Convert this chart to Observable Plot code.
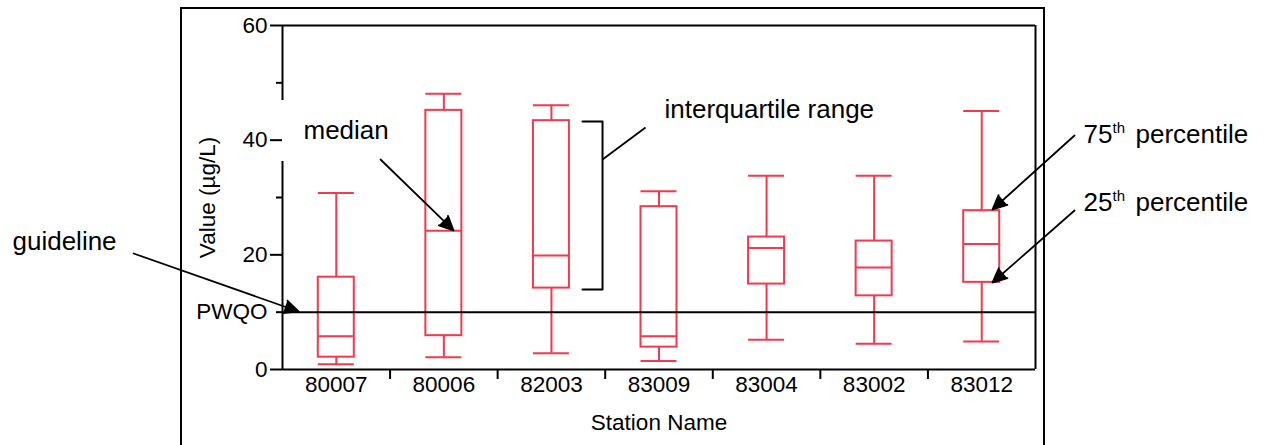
<!DOCTYPE html>
<html>
<head>
<meta charset="utf-8">
<script src="https://cdn.jsdelivr.net/npm/d3@7"></script>
<script src="https://cdn.jsdelivr.net/npm/@observablehq/plot@0.6"></script>
<style>
  html, body { margin: 0; padding: 0; background: #fff; overflow: hidden; }
  #wrap { position: relative; width: 1264px; height: 445px; }
  #outer { position: absolute; left: 180px; top: 7px; width: 865px; height: 600px;
           box-sizing: border-box; border: 2px solid #000; pointer-events: none; }
</style>
</head>
<body>
<div id="wrap"><div id="outer"></div></div>
<script>
// ---- data ----
const stations    = ["80007", "80006", "82003", "83009", "83004", "83002", "83012"];
const lowWhisker  = [0.9, 2.15, 2.85, 1.5, 5.2, 4.5, 4.9];
const q1          = [2.15, 5.9, 14.2, 3.9, 14.9, 12.85, 15.2];
const median      = [5.8, 24.2, 19.9, 5.8, 21.2, 17.8, 21.9];
const q3          = [16.1, 45.2, 43.4, 28.4, 23.1, 22.4, 27.7];
const highWhisker = [30.8, 48.1, 46.1, 31.1, 33.8, 33.8, 45.1];
const pwqo = 10;
const yTicks = [0, 20, 40, 60];
const yMinorTicks = [30, 50];
const yLabel = "Value (µg/L)";
const xLabel = "Station Name";

// annotation texts and anchor points (data units)
const labels = [
  {text: "median", x: -0.305, y: 40.29},
  {text: "interquartile range", x: 3.051, y: 43.78},
  {text: "guideline", x: -3.010, y: 20.76}
];
const percentileLabels = [
  {num: "75", x: 6.946, y: 39.59},
  {num: "25", x: 6.946, y: 27.73}
];
const arrows = [
  {x1: -1.885, y1: 20.23, x2: -0.351, y2: 10.12},
  {x1: 0.411, y1: 36.63, x2: 1.090, y2: 24.25},
  {x1: 6.863, y1: 40.81, x2: 6.100, y2: 27.91},
  {x1: 6.863, y1: 27.73, x2: 6.100, y2: 15.17}
];
const bracket = [
  {x: 2.289, y: 43.26}, {x: 2.475, y: 43.26}, {x: 2.475, y: 13.95}, {x: 2.289, y: 13.95}
];
const bracketLeader = [{x1: 2.475, y1: 36.63, x2: 2.875, y2: 42.21}];
const axisGap = [{y1: 0, y2: 36.28}, {y1: 46.92, y2: 60}];

// ---- build ----
const boxes = stations.map((s, i) => ({
  i, station: s, lo: lowWhisker[i], q1: q1[i], med: median[i], q3: q3[i], hi: highWhisker[i]
}));
const hw = 0.1673;
const red = "#ef3a4f";
const font = "'Liberation Sans', Arial, Helvetica, sans-serif";

const chart = Plot.plot({
  width: 1264,
  height: 445,
  marginLeft: 282,
  marginRight: 229,
  marginTop: 25,
  marginBottom: 76,
  x: {domain: [-0.5, 6.5]},
  y: {domain: [0, 60]},
  style: {fontFamily: font, background: "transparent", color: "#000"},
  marks: [
    // axes
    Plot.axisY({ticks: yTicks, tickSize: 12, tickPadding: 3, fontSize: 22.5, strokeWidth: 2, label: null}),
    Plot.axisY({ticks: [pwqo], tickSize: 6, tickPadding: 9, fontSize: 22.5, strokeWidth: 2, tickFormat: () => "PWQO", label: null}),
    Plot.axisY({ticks: yMinorTicks, tickSize: 6, strokeWidth: 2, tickFormat: () => "", label: null}),
    Plot.axisX({ticks: d3.range(stations.length), tickSize: 0, tickPadding: 7, fontSize: 22.5,
                tickFormat: i => stations[i], label: null}),
    Plot.axisX({ticks: d3.range(0.5, stations.length - 1, 1), tickSize: 10, strokeWidth: 2,
                tickFormat: () => "", label: null}),
    // plot frame
    Plot.ruleY([0], {strokeWidth: 2}),
    Plot.ruleY([60], {strokeWidth: 2}),
    Plot.ruleX([6.5], {strokeWidth: 2}),
    Plot.ruleX(axisGap, {x: () => -0.5, y1: "y1", y2: "y2", strokeWidth: 2}),
    // axis titles
    Plot.text([xLabel], {text: d => d, frameAnchor: "bottom", lineAnchor: "bottom", dy: 60, fontSize: 22.5}),
    Plot.text([yLabel], {text: d => d, frameAnchor: "left", textAnchor: "middle", rotate: -90, dx: -75, fontSize: 22.5}),
    // box plots
    Plot.ruleX(boxes, {x: "i", y1: "lo", y2: "q1", stroke: red, strokeWidth: 2}),
    Plot.ruleX(boxes, {x: "i", y1: "q3", y2: "hi", stroke: red, strokeWidth: 2}),
    Plot.ruleY(boxes, {y: "lo", x1: d => d.i - hw, x2: d => d.i + hw, stroke: red, strokeWidth: 2}),
    Plot.ruleY(boxes, {y: "hi", x1: d => d.i - hw, x2: d => d.i + hw, stroke: red, strokeWidth: 2}),
    Plot.rect(boxes, {x1: d => d.i - hw, x2: d => d.i + hw, y1: "q1", y2: "q3", fill: "none", stroke: red, strokeWidth: 2}),
    Plot.ruleY(boxes, {y: "med", x1: d => d.i - hw, x2: d => d.i + hw, stroke: red, strokeWidth: 2}),
    // guideline
    Plot.ruleY([pwqo], {strokeWidth: 2}),
    // annotations
    Plot.line(bracket, {x: "x", y: "y", strokeWidth: 2}),
    Plot.link(bracketLeader, {x1: "x1", y1: "y1", x2: "x2", y2: "y2", strokeWidth: 1.8}),
    Plot.arrow(arrows, {x1: "x1", y1: "y1", x2: "x2", y2: "y2", stroke: "#000", fill: "#000",
                        strokeWidth: 1.8, headAngle: 50, headLength: 13}),
    Plot.text(labels, {x: "x", y: "y", text: "text", textAnchor: "start", lineAnchor: "bottom", fontSize: 26}),
    Plot.text(percentileLabels, {x: "x", y: "y", text: "num", textAnchor: "start", lineAnchor: "bottom", fontSize: 26}),
    Plot.text(percentileLabels, {x: "x", y: "y", text: () => "th", textAnchor: "start", lineAnchor: "bottom", fontSize: 15, dx: 29, dy: -10}),
    Plot.text(percentileLabels, {x: "x", y: "y", text: () => "percentile", textAnchor: "start", lineAnchor: "bottom", fontSize: 26, dx: 52})
  ]
});
chart.style.position = "absolute";
chart.style.left = "0px";
chart.style.top = "0px";
document.getElementById("wrap").prepend(chart);
</script>
</body>
</html>
